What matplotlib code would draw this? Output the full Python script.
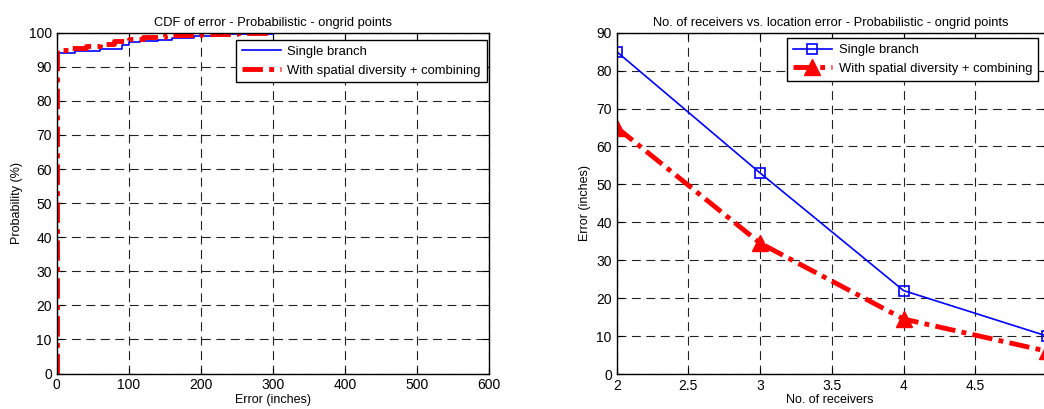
import matplotlib
matplotlib.use("Agg")
import matplotlib.pyplot as plt

plt.rcParams['font.family'] = ['Liberation Sans', 'DejaVu Sans']

# Left: CDF data (step breakpoints)
cdf_single_err = [0, 0, 25, 60, 90, 100, 115, 140, 160, 190, 230, 300, 505]
cdf_single_prob = [0, 94.0, 94.5, 95.3, 96.5, 97.2, 97.6, 98.0, 98.5, 99.0, 99.5, 100, 100]
cdf_div_err = [0, 0, 20, 40, 60, 80, 100, 120, 150, 200, 250, 300]
cdf_div_prob = [0, 95.0, 95.5, 96.2, 96.8, 97.5, 98.2, 98.8, 99.2, 99.5, 99.8, 100]

# Right: receivers vs error
receivers = [2, 3, 4, 5]
err_single = [85, 53, 22, 10]
err_div = [65, 34.5, 14.5, 6]

labels = ['Single branch', 'With spatial diversity + combining']
xticks_right = [2, 2.5, 3, 3.5, 4, 4.5]

W, H = 1044, 409
fig = plt.figure(figsize=(W / 100, H / 100), dpi=100)

def px_axes(x0, y0, x1, y1):
    return fig.add_axes([x0 / W, 1 - y1 / H, (x1 - x0) / W, (y1 - y0) / H])

ax1 = px_axes(56.7, 32.7, 489, 373.5)
ax2 = px_axes(616.7, 32.7, 1047, 374)

red_ls = (0, (4.2, 1.3, 1, 1.3))

def style(ax):
    ax.grid(True, color='#222222', linestyle=(0, (8, 5)), linewidth=0.8)
    ax.tick_params(direction='in', top=True, right=True, labelsize=10, length=4)
    for s in ax.spines.values():
        s.set_linewidth(1.0)

leg_kw = dict(borderaxespad=0, fontsize=9.4, handlelength=3.0, handletextpad=0.5,
              fancybox=False, edgecolor='black', framealpha=1, borderpad=0.45, labelspacing=0.5)

ax1.plot(cdf_single_err, cdf_single_prob, color='blue', lw=1.2, drawstyle='steps-post', label=labels[0])
ax1.plot(cdf_div_err, cdf_div_prob, color='red', lw=3.5, linestyle=red_ls,
         drawstyle='steps-post', label=labels[1])
ax1.set_xlim(0, 600)
ax1.set_ylim(0, 100)
ax1.set_xticks(range(0, 601, 100))
ax1.set_yticks(range(0, 101, 10))
style(ax1)
ax1.set_title('CDF of error - Probabilistic - ongrid points', fontsize=9.3, pad=5)
ax1.set_xlabel('Error (inches)', fontsize=9, labelpad=1)
ax1.set_ylabel('Probability (%)', fontsize=9, labelpad=4)
leg1 = ax1.legend(loc='upper right', bbox_to_anchor=(0.995, 0.979), **leg_kw)
leg1.get_frame().set_linewidth(1.0)

ax2.plot(receivers, err_single, color='blue', lw=1.2, marker='s', markersize=7,
         markerfacecolor='none', markeredgecolor='blue', markeredgewidth=1.2, label=labels[0])
ax2.plot(receivers, err_div, color='red', lw=3.5, linestyle=red_ls, marker='^',
         markersize=12, markerfacecolor='red', markeredgecolor='red', label=labels[1])
ax2.set_xlim(2, 5)
ax2.set_ylim(0, 90)
ax2.set_xticks(xticks_right)
ax2.set_xticklabels([f'{v:g}' for v in xticks_right])
ax2.set_yticks(range(0, 91, 10))
style(ax2)
ax2.set_title('No. of receivers vs. location error - Probabilistic - ongrid points', fontsize=9.3, pad=5,
              x=(831 - 616.7) / (1047 - 616.7))
ax2.set_xlabel('No. of receivers', fontsize=9, labelpad=1, x=(830 - 616.7) / (1047 - 616.7))
ax2.set_ylabel('Error (inches)', fontsize=9, labelpad=4)
leg2 = ax2.legend(loc='upper left', bbox_to_anchor=((787 - 616.7) / (1047 - 616.7), 0.984), **leg_kw)
leg2.get_frame().set_linewidth(1.0)

fig.savefig('out.png', dpi=100)
